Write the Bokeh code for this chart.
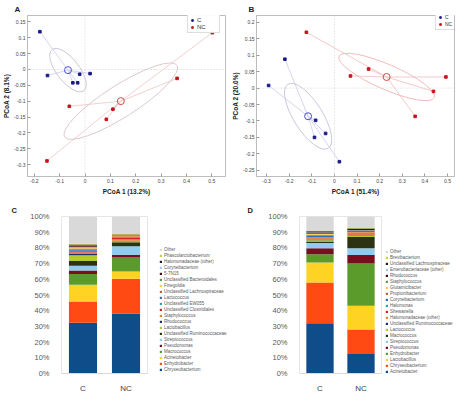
import numpy as np
from bokeh.plotting import figure
from bokeh.layouts import column, row
from bokeh.models import (Range1d, FactorRange, FixedTicker, CustomJSTickFormatter,
                          Span, Title, Legend, LegendItem, ColumnDataSource)
from bokeh.embed import file_html
from bokeh.resources import INLINE

FONT = "Liberation Sans"

# ---------------- Panel A (PCoA) ----------------
a_c_x = [-0.178, -0.148, -0.048, -0.029, -0.021, 0.020]
a_c_y = [0.119, -0.019, -0.042, -0.042, -0.015, -0.013]
a_nc_x = [0.502, 0.363, -0.062, 0.110, 0.084, -0.150]
a_nc_y = [0.116, -0.028, -0.116, -0.125, -0.157, -0.288]
a_xticks = [-0.2, -0.1, 0, 0.1, 0.2, 0.3, 0.4, 0.5]
a_yticks = [-0.3, -0.25, -0.2, -0.15, -0.1, -0.05, 0, 0.05, 0.1, 0.15]
a_xlabel = "PCoA 1 (13.2%)"
a_ylabel = "PCoA 2 (8.1%)"

# ---------------- Panel B (PCoA) ----------------
b_c_x = [-0.219, -0.291, -0.083, -0.039, -0.088, 0.022]
b_c_y = [0.088, 0.008, -0.098, -0.138, -0.150, -0.224]
b_nc_x = [-0.124, 0.071, 0.151, 0.438, 0.493, 0.357]
b_nc_y = [0.170, 0.037, 0.058, -0.010, 0.034, -0.086]
b_xticks = [-0.3, -0.2, -0.1, 0, 0.1, 0.2, 0.3, 0.4, 0.5]
b_yticks = [-0.25, -0.2, -0.15, -0.1, -0.05, 0, 0.05, 0.1, 0.15, 0.2]
b_xlabel = "PCoA 1 (51.4%)"
b_ylabel = "PCoA 2 (20.0%)"

groups = ["C", "NC"]

# ---------------- Panel C (stacked bars, bottom -> top) ----------------
c_taxa = ["Chryseobacterium", "Enhydrobacter", "Acinetobacter", "Macrococcus", "Pseudomonas",
          "Streptococcus", "Unclassified Ruminococcaceae", "Lactobacillus", "Rhodococcus",
          "Staphylococcus", "Unclassified Clostridiales", "Unclassified EW055", "Lactococcus",
          "Unclassified Lachnospiraceae", "Finegoldia", "Unclassified Bacteroidales", "5-7N15",
          "Corynebacterium", "Halomonadaceae (other)", "Phascolarctobacterium", "Other"]
c_vals_C = [32.4, 13.5, 10.7, 6.7, 2.3, 3.1, 2.9, 3.7, 0.8, 1.0, 0.8, 0.3, 0.8, 0.6, 0.7,
            0.5, 0.5, 0.3, 0.6, 0.4, 17.4]
c_vals_NC = [38.2, 22.2, 4.5, 9.0, 1.8, 5.4, 2.5, 0.6, 0.3, 0.8, 1.0, 0.3, 0.3, 0.6, 0.2,
             0.4, 0.2, 0.1, 0.2, 0.2, 11.2]

# ---------------- Panel D (stacked bars, bottom -> top) ----------------
d_taxa = ["Acinetobacter", "Chryseobacterium", "Lactobacillus", "Enhydrobacter", "Pseudomonas",
          "Streptococcus", "Macrococcus", "Lactococcus", "Unclassified Ruminococcaceae",
          "Halomonadaceae (other)", "Shewanella", "Halomonas", "Corynebacterium",
          "Propionibacterium", "Glutamicibacter", "Staphylococcus", "Rhodococcus",
          "Enterobacteriaceae (other)", "Unclassified Lachnospiraceae", "Brevibacterium", "Other"]
d_vals_C = [32.0, 25.9, 12.8, 5.2, 3.8, 3.5, 0.8, 0.9, 0.4, 0.8, 0.5, 0.4, 0.7, 0.6, 0.6,
            0.3, 0.6, 0.2, 0.6, 0.1, 9.3]
d_vals_NC = [12.5, 15.5, 15.1, 27.0, 5.4, 4.2, 7.2, 0.8, 0.3, 0.6, 0.5, 0.2, 0.2, 0.4, 0.3,
             0.3, 0.4, 0.3, 1.2, 0.3, 7.3]
pct_ticks = [0, 10, 20, 30, 40, 50, 60, 70, 80, 90, 100]

stack_colors = ["#0f4c8a", "#ff4a14", "#ffd324", "#5a9b2b", "#7a0d1e", "#8ecdf2", "#2d3312",
                "#b4cc2a", "#1c2f6e", "#e8862a", "#d6262a", "#2aa7a0", "#2f6fc0", "#c8603a",
                "#f3d246", "#5e9c46", "#4a0a14", "#9fd0ee", "#1e1e1e", "#c3d13a", "#d9d9d9"]

TOP_H = 205
BOT_H = 190


def panel_letter(letter, offset, size):
    return Title(text=letter, align="left", offset=offset, vertical_align="top", standoff=0,
                 text_font=FONT, text_font_size=size, text_font_style="bold", text_color="#222222")


def pcoa_panel(cx, cy, ncx, ncy, xr, yr, xticks, yticks, xlabel, ylabel, left, fw, letter,
               letter_x, ell_c, ell_nc, leg_loc, leg_font, ell_colors, spoke_colors):
    p = figure(width=229, height=TOP_H, x_range=Range1d(*xr), y_range=Range1d(*yr),
               output_backend="svg", toolbar_location=None,
               min_border_left=left, min_border_right=229 - left - fw,
               min_border_top=15, min_border_bottom=TOP_H - 15 - 161)
    p.title = panel_letter(letter, letter_x, "8px")
    p.grid.visible = False
    p.outline_line_color = "#bdbdbd"
    p.background_fill_color = "white"
    p.border_fill_color = "white"
    fmt = CustomJSTickFormatter(code="return tick.toString();")
    for ax, ticks in ((p.xaxis[0], xticks), (p.yaxis[0], yticks)):
        ax.ticker = FixedTicker(ticks=ticks)
        ax.formatter = fmt
        ax.axis_line_color = "#bdbdbd"
        ax.major_tick_in = 3
        ax.major_tick_out = 0
        ax.major_tick_line_color = "#9a9a9a"
        ax.minor_tick_line_color = None
        ax.major_label_text_font = FONT
        ax.major_label_text_font_size = "5px"
        ax.major_label_text_color = "#444444"
        ax.major_label_standoff = 2
        ax.axis_label_text_font = FONT
        ax.axis_label_text_font_size = "6.5px"
        ax.axis_label_text_font_style = "bold"
        ax.axis_label_text_color = "#222222"
        ax.axis_label_standoff = 2
    p.xaxis.axis_label = xlabel
    p.yaxis.axis_label = ylabel
    p.yaxis.axis_label_standoff = 1
    p.add_layout(Span(location=0, dimension="height", line_color="#d4d4d4", line_dash="1 2", line_width=1))
    p.add_layout(Span(location=0, dimension="width", line_color="#d4d4d4", line_dash="1 2", line_width=1))

    mcx, mcy = float(np.mean(cx)), float(np.mean(cy))
    mnx, mny = float(np.mean(ncx)), float(np.mean(ncy))
    p.segment(x0=cx, y0=cy, x1=[mcx] * len(cx), y1=[mcy] * len(cy), line_color=spoke_colors[0], line_width=1)
    p.segment(x0=ncx, y0=ncy, x1=[mnx] * len(ncx), y1=[mny] * len(ncy), line_color=spoke_colors[1], line_width=1)
    p.ellipse(x=[mcx], y=[mcy], width=ell_c[0], height=ell_c[1], angle=ell_c[2], angle_units="deg",
              width_units="screen", height_units="screen", fill_color=None, line_color=ell_colors[0], line_width=1)
    p.ellipse(x=[mnx], y=[mny], width=ell_nc[0], height=ell_nc[1], angle=ell_nc[2], angle_units="deg",
              width_units="screen", height_units="screen", fill_color=None, line_color=ell_colors[1], line_width=1)
    rc = p.scatter(cx, cy, marker="square", size=2.6, color="#1a1a8c")
    rnc = p.scatter(ncx, ncy, marker="square", size=2.6, color="#c4161c")
    p.scatter([mcx], [mcy], marker="circle", size=7, fill_color=None, line_color="#4a4ad0", line_width=1)
    p.scatter([mnx], [mny], marker="circle", size=7, fill_color=None, line_color="#d04a4a", line_width=1)

    leg = Legend(items=[LegendItem(label=groups[0], renderers=[rc]), LegendItem(label=groups[1], renderers=[rnc])],
                 location=leg_loc, label_text_font=FONT, label_text_font_size=leg_font,
                 label_text_color="#333333", glyph_width=4, glyph_height=4, label_height=5,
                 label_standoff=3, spacing=1, padding=2, margin=0,
                 border_line_color="#bdbdbd", background_fill_color="white")
    p.add_layout(leg)
    return p


def bar_panel(taxa, vals_c, vals_nc, left, fw, bw, letter, letter_x):
    p = figure(width=left + fw + 1, height=BOT_H, x_range=FactorRange(factors=groups), y_range=Range1d(0, 100),
               output_backend="svg", toolbar_location=None,
               min_border_left=left, min_border_right=1,
               min_border_top=BOT_H - 166 - 13, min_border_bottom=13)
    p.title = panel_letter(letter, letter_x, "7.5px")
    p.grid.visible = False
    p.outline_line_color = "#e6e6e6"
    keys = [f"s{i}" for i in range(len(taxa))]
    data = {"cat": groups}
    for k, a, b in zip(keys, vals_c, vals_nc):
        data[k] = [a, b]
    src = ColumnDataSource(data)
    p.vbar_stack(keys, x="cat", width=bw, fill_color=stack_colors[:len(taxa)], line_color=None, source=src)
    ya = p.yaxis[0]
    ya.ticker = FixedTicker(ticks=pct_ticks)
    ya.formatter = CustomJSTickFormatter(code="return tick + '%';")
    ya.axis_line_color = None
    ya.major_tick_line_color = None
    ya.minor_tick_line_color = None
    ya.major_label_text_font = FONT
    ya.major_label_text_font_size = "7.5px"
    ya.major_label_text_color = "#595959"
    ya.major_label_standoff = 6
    xa = p.xaxis[0]
    xa.axis_line_color = "#d9d9d9"
    xa.major_tick_line_color = None
    xa.major_label_text_font = FONT
    xa.major_label_text_font_size = "8px"
    xa.major_label_text_color = "#404040"
    xa.major_label_standoff = 4
    return p


def legend_panel(taxa, width, leg_xy):
    # legend-only panel; each key gets a zero-height swatch renderer carrying its colour
    pl = figure(width=width, height=BOT_H, x_range=Range1d(0, 1), y_range=Range1d(0, 1),
                x_axis_type=None, y_axis_type=None, output_backend="svg", toolbar_location=None,
                min_border_left=0, min_border_right=0, min_border_top=0, min_border_bottom=0)
    pl.grid.visible = False
    pl.outline_line_color = None
    items = []
    for t, c in zip(taxa, stack_colors):
        r = pl.vbar(x=[0.5], top=[0], bottom=[0], width=0.5, fill_color=c, line_color=None)
        items.append(LegendItem(label=t, renderers=[r]))
    leg = Legend(items=items[::-1], location=leg_xy, label_text_font=FONT, label_text_font_size="4.5px",
                 label_text_color="#595959", glyph_width=3, glyph_height=3, label_height=6,
                 label_standoff=2, spacing=0, padding=0, margin=0,
                 border_line_alpha=0, background_fill_alpha=0)
    pl.add_layout(leg)
    return pl


pA = pcoa_panel(a_c_x, a_c_y, a_nc_x, a_nc_y, (-0.2268, 0.5539), (-0.337, 0.170), a_xticks, a_yticks,
                a_xlabel, a_ylabel, 22, 203, "A", -13, (52, 22.6, -52.3), (133, 32, 32.5),
                (160, 143), "6px", ("#c8c8da", "#dccaca"), ("#d6d6f0", "#f3d0d0"))
pB = pcoa_panel(b_c_x, b_c_y, b_nc_x, b_nc_y, (-0.3445, 0.531), (-0.269, 0.221), b_xticks, b_yticks,
                b_xlabel, b_ylabel, 26, 199, "B", -8, (75.7, 29, -57.8), (104, 25, -23.5),
                (179, 146), "5px", ("#c8c8de", "#f2bcbc"), ("#d6d6f0", "#f3caca"))
pC = bar_panel(c_taxa, c_vals_C, c_vals_NC, 61, 86, 0.654, "C", -50)
pCL = legend_panel(c_taxa, 229 - 148, (11, 1))
pD = bar_panel(d_taxa, d_vals_C, d_vals_NC, 70, 82, 0.666, "D", -52)
pDL = legend_panel(d_taxa, 229 - 153, (3, -1))

layout = column(row(pA, pB), row(pC, pCL, pD, pDL))
open("out.html", "w").write(file_html(layout, INLINE))
